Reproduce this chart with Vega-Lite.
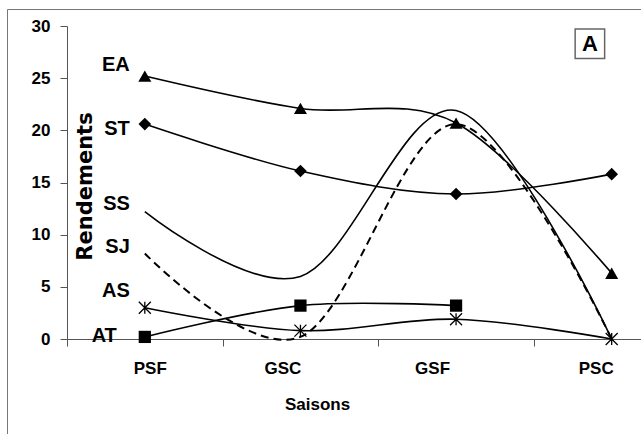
{
  "$schema": "https://vega.github.io/schema/vega-lite/v6.json",
  "width": 634,
  "height": 430,
  "autosize": {"type": "none"},
  "padding": {"left": 7, "top": 9, "right": 0, "bottom": 0},
  "background": "white",
  "view": {"stroke": "#777777", "strokeWidth": 1, "fill": "white"},
  "config": {"font": "Liberation Sans"},
  "datasets": {
    "yields": [
      {"series": "EA", "season": "PSF", "k": 1, "value": 25.2},
      {"series": "EA", "season": "GSC", "k": 2, "value": 22.1},
      {"series": "EA", "season": "GSF", "k": 3, "value": 20.7},
      {"series": "EA", "season": "PSC", "k": 4, "value": 6.3},
      {"series": "ST", "season": "PSF", "k": 1, "value": 20.6},
      {"series": "ST", "season": "GSC", "k": 2, "value": 16.1},
      {"series": "ST", "season": "GSF", "k": 3, "value": 13.9},
      {"series": "ST", "season": "PSC", "k": 4, "value": 15.8},
      {"series": "SS", "season": "PSF", "k": 1, "value": 12.2},
      {"series": "SS", "season": "GSC", "k": 2, "value": 6.0},
      {"series": "SS", "season": "GSF", "k": 3, "value": 21.9},
      {"series": "SS", "season": "PSC", "k": 4, "value": 0},
      {"series": "SJ", "season": "PSF", "k": 1, "value": 8.2},
      {"series": "SJ", "season": "GSC", "k": 2, "value": 0.2},
      {"series": "SJ", "season": "GSF", "k": 3, "value": 20.6},
      {"series": "SJ", "season": "PSC", "k": 4, "value": 0},
      {"series": "AS", "season": "PSF", "k": 1, "value": 3.0},
      {"series": "AS", "season": "GSC", "k": 2, "value": 0.8},
      {"series": "AS", "season": "GSF", "k": 3, "value": 1.9},
      {"series": "AS", "season": "PSC", "k": 4, "value": 0},
      {"series": "AT", "season": "PSF", "k": 1, "value": 0.2},
      {"series": "AT", "season": "GSC", "k": 2, "value": 3.2},
      {"series": "AT", "season": "GSF", "k": 3, "value": 3.2}
    ],
    "labels": [
      {"series": "EA", "season": "PSF", "value": 26.3},
      {"series": "ST", "season": "PSF", "value": 20.1},
      {"series": "SS", "season": "PSF", "value": 12.9},
      {"series": "SJ", "season": "PSF", "value": 8.8},
      {"series": "AS", "season": "PSF", "value": 4.6},
      {"series": "AT", "season": "PSF", "value": 0.3}
    ],
    "panel": [{"season": "PSC", "value": 28.3, "text": "A"}]
  },
  "data": {"name": "yields"},
  "encoding": {
    "x": {
      "field": "season",
      "type": "nominal",
      "scale": {"type": "band", "domain": ["PSF", "GSC", "GSF", "PSC"], "range": [60, 682.5], "paddingInner": 0, "paddingOuter": 0},
      "axis": {
        "title": "Saisons",
        "titleFontSize": 17,
        "titleFontWeight": "bold",
        "titleColor": "black",
        "titleX": 310,
        "titleY": 65,
        "titleAlign": "center",
        "titleBaseline": "middle",
        "labelAngle": 0,
        "labelFontSize": 17,
        "labelFontWeight": "bold",
        "labelColor": "black",
        "labelPadding": 14,
        "labelOffset": {"expr": "datum.value == 'PSF' ? 5 : datum.value == 'GSC' ? -18 : datum.value == 'GSF' ? -24 : -16"},
        "tickBand": "extent",
        "tickSize": 7,
        "tickColor": "#555555",
        "domainColor": "#555555",
        "offset": -100,
        "grid": false
      }
    },
    "y": {
      "field": "value",
      "type": "quantitative",
      "scale": {"domain": [0, 30], "range": [330, 17], "nice": false, "zero": true},
      "axis": {
        "title": "Rendements",
        "titleFont": "DejaVu Sans",
        "titleFontSize": 21,
        "titleFontWeight": "bold",
        "titleColor": "black",
        "titleAngle": -90,
        "titleX": 18.5,
        "titleY": 177,
        "titleAlign": "center",
        "titleBaseline": "middle",
        "values": [0, 5, 10, 15, 20, 25, 30],
        "labelFontSize": 17,
        "labelFontWeight": "bold",
        "labelColor": "black",
        "labelPadding": 10,
        "tickSize": 7,
        "tickColor": "#555555",
        "domainColor": "#555555",
        "offset": -60,
        "grid": false
      }
    }
  },
  "layer": [
    {
      "transform": [{"filter": "datum.series != 'SJ'"}],
      "mark": {"type": "line", "interpolate": "cardinal", "color": "black", "strokeWidth": 1.6},
      "encoding": {"detail": {"field": "series"}, "order": {"field": "k"}}
    },
    {
      "transform": [{"filter": "datum.series == 'SJ'"}],
      "mark": {"type": "line", "interpolate": "cardinal", "color": "black", "strokeWidth": 2, "strokeDash": [8, 5]},
      "encoding": {"order": {"field": "k"}}
    },
    {
      "transform": [{"filter": "datum.series == 'EA' || datum.series == 'ST' || datum.series == 'AT'"}],
      "mark": {"type": "point", "filled": true, "color": "black", "opacity": 1},
      "encoding": {
        "shape": {"field": "series", "scale": {"domain": ["EA", "ST", "AT"], "range": ["triangle-up", "diamond", "square"]}, "legend": null},
        "size": {"field": "series", "scale": {"domain": ["EA", "ST", "AT"], "range": [170, 150, 110]}, "legend": null}
      }
    },
    {
      "transform": [{"filter": "datum.series == 'AS'"}],
      "mark": {"type": "point", "filled": false, "stroke": "black", "strokeWidth": 1.3, "opacity": 1, "size": 144, "shape": "M-1,-1L1,1M1,-1L-1,1M0,-1L0,1"}
    },
    {
      "data": {"name": "labels"},
      "transform": [{"filter": "datum.series != 'AT'"}],
      "mark": {"type": "text", "align": "right", "baseline": "middle", "dx": -15, "fontSize": 20, "fontWeight": "bold", "color": "black"},
      "encoding": {"text": {"field": "series"}}
    },
    {
      "data": {"name": "labels"},
      "transform": [{"filter": "datum.series == 'AT'"}],
      "mark": {"type": "text", "align": "right", "baseline": "middle", "dx": -28, "fontSize": 20, "fontWeight": "bold", "color": "black"},
      "encoding": {"text": {"field": "series"}}
    },
    {
      "data": {"name": "panel"},
      "mark": {"type": "point", "shape": "square", "filled": false, "stroke": "#666666", "strokeWidth": 1.5, "size": 870, "opacity": 1},
      "encoding": {"x": {"field": "season", "type": "nominal", "bandPosition": 0.36}}
    },
    {
      "data": {"name": "panel"},
      "mark": {"type": "text", "align": "center", "baseline": "middle", "fontSize": 22, "fontWeight": "bold", "color": "black"},
      "encoding": {"x": {"field": "season", "type": "nominal", "bandPosition": 0.36}, "text": {"field": "text"}}
    }
  ]
}
